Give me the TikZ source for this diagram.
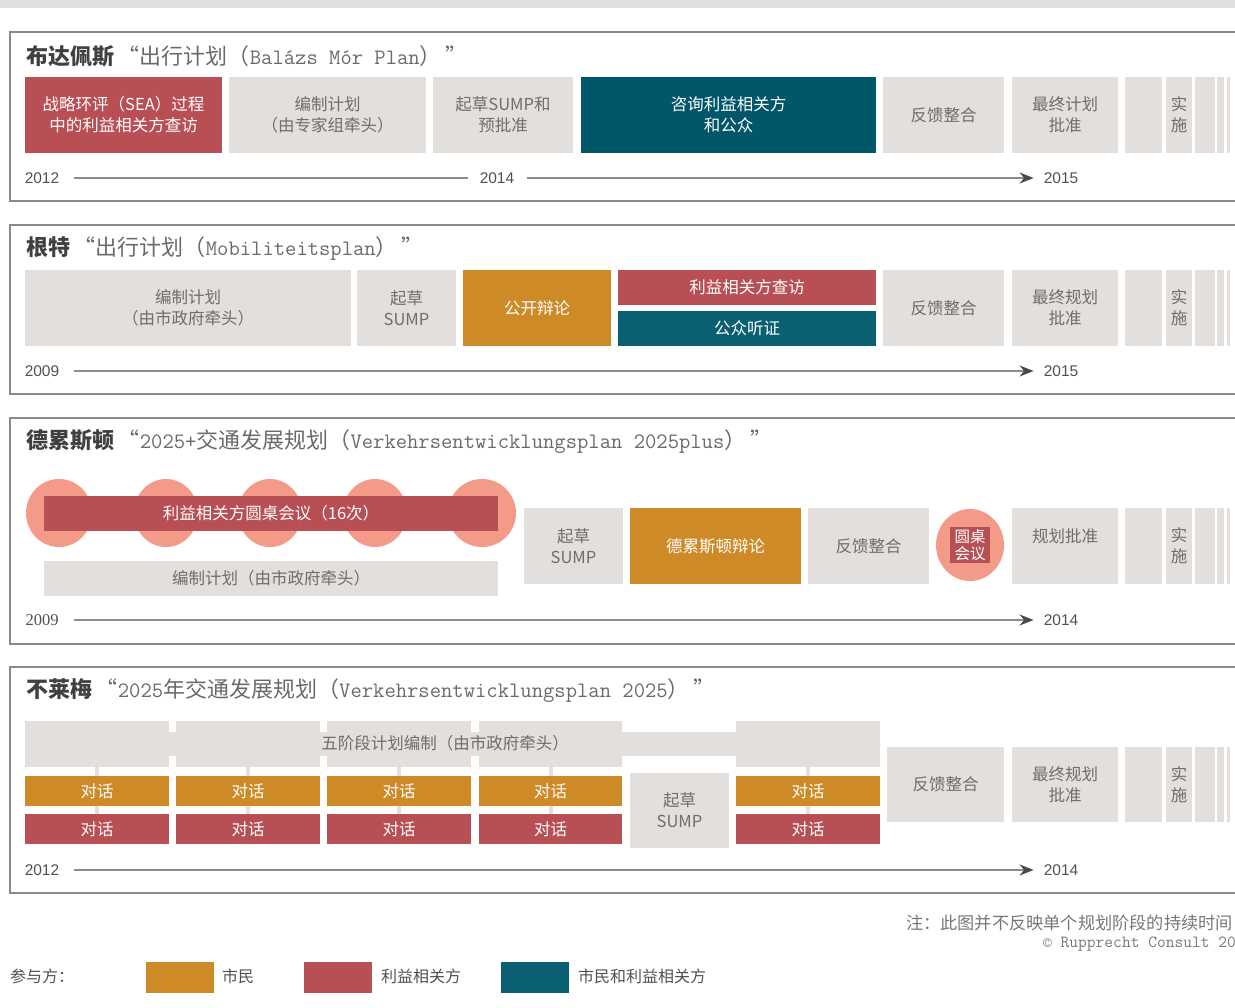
\documentclass[tikz,border=0pt]{standalone}
\usepackage{fontspec}
\setmainfont{Liberation Sans}
\newfontfamily\cjk{Noto Sans CJK SC}
\newfontfamily\lserif{Liberation Serif}
\usetikzlibrary{arrows.meta,shapes.geometric}
\definecolor{boxgray}{HTML}{E2DFDC}
\definecolor{textgray}{HTML}{6E6E6E}
\definecolor{corange}{HTML}{CF8A28}
\definecolor{cred}{HTML}{B84F55}
\definecolor{cteal}{HTML}{02566A}
\definecolor{cteal2}{HTML}{0A5F72}
\definecolor{salmon}{HTML}{F49A88}
\definecolor{framegray}{HTML}{8A8A8A}
\definecolor{titledark}{HTML}{404040}
\definecolor{titlegray}{HTML}{6A6A6A}
\definecolor{yeargray}{HTML}{505050}
\definecolor{linegray}{HTML}{8C8C8C}
\definecolor{arrowgray}{HTML}{4A4A4A}
\definecolor{notegray}{HTML}{777777}
\tikzset{
  base/.style={inner sep=0pt, outer sep=0pt, align=center, font=\cjk\fontsize{16.5}{21}\selectfont},
  gbox/.style={base, fill=boxgray, text=textgray},
  obox/.style={base, fill=corange, text=white},
  rbox/.style={base, fill=cred, text=white},
  tbox/.style={base, fill=cteal, text=white},
  tbox2/.style={base, fill=cteal2, text=white},
  gtext/.style={base, text=textgray},
  ell/.style={ellipse, fill=salmon, inner sep=0pt, outer sep=0pt},
  title/.style={anchor=west, inner sep=0pt, font=\cjk\fontsize{22}{26}\selectfont, text=titlegray},
  yr/.style={inner sep=0pt, font=\fontsize{15.5}{18}\selectfont, text=yeargray},
  tl/.style={draw=linegray, line width=1.2pt},
  tlarrow/.style={tl, -{Stealth[length=14pt,width=11pt,color=arrowgray]}},
  frame/.style={draw=framegray, line width=1.4pt},
  conn/.style={draw=boxgray, line width=4pt},
  leg/.style={inner sep=0pt, font=\cjk\fontsize{16}{19}\selectfont, text=yeargray},
}
\newcommand\rbx[7]{\node[#1, minimum width={(#5-#3)*1pt}, minimum height={(#6-#4)*1pt}] (#2) at ({(#3+#5)/2},{(#4+#6)/2}) {#7};}
\newcommand\strips[3]{%
  \rbx{gbox}{#1a}{1125}{#2}{1162}{#3}{}
  \rbx{gbox}{#1b}{1166}{#2}{1192}{#3}{实\\施}
  \rbx{gbox}{#1c}{1195}{#2}{1215}{#3}{}
  \rbx{gbox}{#1d}{1217}{#2}{1224}{#3}{}
  \rbx{gbox}{#1e}{1227}{#2}{1230}{#3}{}}
\newcommand\mono[1]{{\ttfamily\fontsize{22}{26}\selectfont #1}}
\begin{document}
\begin{tikzpicture}[x=1pt,y=-1pt]
\useasboundingbox (0,0) rectangle (1235,1008);
\clip (0,0) rectangle (1235,1008);
\fill[boxgray] (0,0) rectangle (1235,8);

% ---------- Panel 1: Budapest ----------
\draw[frame] (1240,32) -- (10,32) -- (10,201) -- (1240,201);
\node[title] (h1) at (26,56) {{\bfseries\color{titledark}布达佩斯}\,“出行计划（\mono{Balázs Mór Plan}）\,”};
\rbx{rbox}{p1a}{25}{77}{222}{153}{战略环评（SEA）过程\\中的利益相关方查访}
\rbx{gbox}{p1b}{229}{77}{426}{153}{编制计划\\（由专家组牵头）}
\rbx{gbox}{p1c}{433}{77}{573}{153}{起草SUMP和\\预批准}
\rbx{tbox}{p1d}{581}{77}{876}{153}{咨询利益相关方\\和公众}
\rbx{gbox}{p1e}{883}{77}{1004}{153}{反馈整合}
\rbx{gbox}{p1f}{1012}{77}{1118}{153}{最终计划\\批准}
\strips{p1s}{77}{153}
\node[yr] (y1a) at (42,178) {2012};
\node[yr] (y1b) at (497,178) {2014};
\node[yr] (y1c) at (1061,178) {2015};
\draw[tl, shorten <=15pt, shorten >=12pt] (y1a) -- (y1b);
\draw[tlarrow, shorten <=13pt, shorten >=10pt] (y1b) -- (y1c);

% ---------- Panel 2: Gent ----------
\draw[frame] (1240,225) -- (10,225) -- (10,394) -- (1240,394);
\node[title] (h2) at (26,249) {{\bfseries\color{titledark}根特}\,“出行计划（\mono{Mobiliteitsplan}）\,”};
\rbx{gbox}{p2a}{25}{270}{351}{346}{编制计划\\（由市政府牵头）}
\rbx{gbox}{p2b}{357}{270}{456}{346}{起草\\SUMP}
\rbx{obox}{p2c}{463}{270}{611}{346}{公开辩论}
\rbx{rbox}{p2d}{618}{270}{876}{305}{利益相关方查访}
\rbx{tbox2}{p2e}{618}{311}{876}{346}{公众听证}
\rbx{gbox}{p2f}{883}{270}{1004}{346}{反馈整合}
\rbx{gbox}{p2g}{1012}{270}{1118}{346}{最终规划\\批准}
\strips{p2s}{270}{346}
\node[yr] (y2a) at (42,371) {2009};
\node[yr] (y2c) at (1061,371) {2015};
\draw[tlarrow, shorten <=15pt, shorten >=10pt] (y2a) -- (y2c);

% ---------- Panel 3: Dresden ----------
\draw[frame] (1240,418) -- (10,418) -- (10,644) -- (1240,644);
\node[title] (h3) at (26,442) {{\bfseries\color{titledark}德累斯顿}\,“\mono{2025+}交通发展规划（\mono{Verkehrsentwicklungsplan 2025plus}）\,”};
\node[ell, minimum width=66pt, minimum height=68pt] (c1) at (59,513) {};
\node[ell, minimum width=64pt, minimum height=68pt] (c2) at (166,513) {};
\node[ell, minimum width=64pt, minimum height=68pt] (c3) at (270,513) {};
\node[ell, minimum width=64pt, minimum height=68pt] (c4) at (375,513) {};
\node[ell, minimum width=68pt, minimum height=68pt] (c5) at (482,513) {};
\rbx{rbox}{p3r}{44}{496}{498}{531}{利益相关方圆桌会议（16次）}
\rbx{gbox}{p3a}{44}{561}{498}{596}{编制计划（由市政府牵头）}
\rbx{gbox}{p3b}{524}{508}{623}{584}{起草\\SUMP}
\rbx{obox}{p3c}{630}{508}{801}{584}{德累斯顿辩论}
\rbx{gbox}{p3d}{808}{508}{929}{584}{反馈整合}
\node[ell, minimum width=68pt, minimum height=72pt] (c6) at (970,545) {};
\node[rbox, minimum width=40pt, minimum height=36pt, font=\cjk\fontsize{15.5}{17.5}\selectfont] (rt) at (970,545) {圆桌\\会议};
\rbx{gbox}{p3e}{1012}{508}{1118}{584}{}
\node[gtext] (p3et) at (1065,536) {规划批准};
\strips{p3s}{508}{584}
\node[yr, font=\lserif\fontsize{16.5}{18}\selectfont] (y3a) at (42,620) {2009};
\node[yr] (y3c) at (1061,620) {2014};
\draw[tlarrow, shorten <=15pt, shorten >=10pt] (y3a) -- (y3c);

% ---------- Panel 4: Bremen ----------
\draw[frame] (1240,667) -- (10,667) -- (10,893) -- (1240,893);
\node[title] (h4) at (26,691) {{\bfseries\color{titledark}不莱梅}\,“\mono{2025}年交通发展规划（\mono{Verkehrsentwicklungsplan 2025}）\,”};
\rbx{gbox}{p4band}{25}{732}{880}{756}{}
\rbx{gbox}{p4t1}{25}{721}{169}{767}{}
\rbx{gbox}{p4t2}{176}{721}{320}{767}{}
\rbx{gbox}{p4t3}{327}{721}{471}{767}{}
\rbx{gbox}{p4t4}{479}{721}{622}{767}{}
\rbx{gbox}{p4t5}{736}{721}{880}{767}{}
\node[gtext] (p4txt) at (445,743) {五阶段计划编制（由市政府牵头）};
\rbx{rbox}{p4r1}{25}{814}{169}{844}{对话}
\rbx{rbox}{p4r2}{176}{814}{320}{844}{对话}
\rbx{rbox}{p4r3}{327}{814}{471}{844}{对话}
\rbx{rbox}{p4r4}{479}{814}{622}{844}{对话}
\rbx{rbox}{p4r5}{736}{814}{880}{844}{对话}
\draw[conn] (p4t1.south) -- (p4r1.north);
\draw[conn] (p4t2.south) -- (p4r2.north);
\draw[conn] (p4t3.south) -- (p4r3.north);
\draw[conn] (p4t4.south) -- (p4r4.north);
\draw[conn] (p4t5.south) -- (p4r5.north);
\rbx{obox}{p4o1}{25}{776}{169}{806}{对话}
\rbx{obox}{p4o2}{176}{776}{320}{806}{对话}
\rbx{obox}{p4o3}{327}{776}{471}{806}{对话}
\rbx{obox}{p4o4}{479}{776}{622}{806}{对话}
\rbx{obox}{p4o5}{736}{776}{880}{806}{对话}
\rbx{gbox}{p4s}{630}{773}{729}{848}{起草\\SUMP}
\rbx{gbox}{p4f}{887}{747}{1004}{822}{反馈整合}
\rbx{gbox}{p4g}{1012}{747}{1118}{822}{最终规划\\批准}
\strips{p4x}{747}{822}
\node[yr] (y4a) at (42,870) {2012};
\node[yr] (y4c) at (1061,870) {2014};
\draw[tlarrow, shorten <=15pt, shorten >=10pt] (y4a) -- (y4c);

% ---------- Footer ----------
\node[anchor=east, inner sep=0pt, font=\cjk\fontsize{17.2}{19}\selectfont, text=notegray] (note) at (1233,923) {注：此图并不反映单个规划阶段的持续时间};
\node[anchor=west, inner sep=0pt, font=\ttfamily\fontsize{17}{19}\selectfont, text=notegray] (copy) at (1043,944) {© Rupprecht Consult 20};

% ---------- Legend ----------
\node[anchor=west, leg] (lg0) at (10,976) {参与方：};
\rbx{obox}{lg1}{146}{962}{214}{993}{}
\node[anchor=west, leg] (lg1t) at (222,976) {市民};
\rbx{rbox}{lg2}{304}{962}{372}{993}{}
\node[anchor=west, leg] (lg2t) at (381,976) {利益相关方};
\rbx{tbox2}{lg3}{501}{962}{569}{993}{}
\node[anchor=west, leg] (lg3t) at (578,976) {市民和利益相关方};
\end{tikzpicture}
\end{document}
